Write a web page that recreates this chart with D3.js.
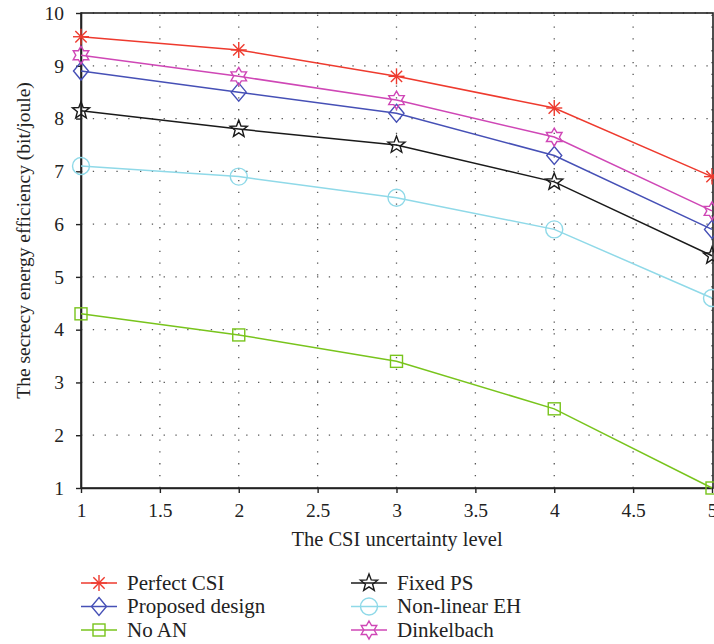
<!DOCTYPE html>
<html>
<head>
<meta charset="utf-8" />
<title>Secrecy energy efficiency</title>
<script src="https://cdn.jsdelivr.net/npm/d3@7"></script>
<style>
  body { margin: 0; background: #fff; }
  text { font-family: "Liberation Serif", "DejaVu Serif", serif; fill: #222; }
</style>
</head>
<body>
<div id="chart"></div>
<script>
// chart values
var csiLevels = [1, 2, 3, 4, 5];
var perfectCsi = [9.55, 9.3, 8.8, 8.2, 6.9];
var proposedDesign = [8.9, 8.5, 8.1, 7.3, 5.9];
var noAn = [4.3, 3.9, 3.4, 2.5, 1.0];
var fixedPs = [8.15, 7.8, 7.5, 6.8, 5.4];
var nonLinearEh = [7.1, 6.9, 6.5, 5.9, 4.6];
var dinkelbach = [9.2, 8.8, 8.35, 7.65, 6.25];
var xTicks = [1, 1.5, 2, 2.5, 3, 3.5, 4, 4.5, 5];
var yTicks = [1, 2, 3, 4, 5, 6, 7, 8, 9, 10];

var series = [
  { name: "Perfect CSI", values: perfectCsi, color: "#ee3a2e", marker: "asterisk" },
  { name: "Proposed design", values: proposedDesign, color: "#4650b6", marker: "diamond" },
  { name: "No AN", values: noAn, color: "#78c41c", marker: "square" },
  { name: "Fixed PS", values: fixedPs, color: "#1a1a1a", marker: "pentagram" },
  { name: "Non-linear EH", values: nonLinearEh, color: "#8fd9e8", marker: "circle" },
  { name: "Dinkelbach", values: dinkelbach, color: "#cf47b6", marker: "hexagram" }
];

var width = 714, height = 644;
var plotLeft = 81, plotRight = 712, plotTop = 13, plotBottom = 488;

var svg = d3.select("#chart").append("svg")
  .attr("width", width).attr("height", height);

var x = d3.scaleLinear().domain([1, 5]).range([plotLeft, plotRight]);
var y = d3.scaleLinear().domain([1, 10]).range([plotBottom, plotTop]);

// dotted grid
var grid = svg.append("g").attr("stroke", "#555").attr("stroke-width", 1.3)
  .attr("stroke-dasharray", "1.3,10.5");
grid.selectAll("line.gx").data(xTicks.slice(1)).enter().append("line")
  .attr("x1", function(d) { return x(d); }).attr("x2", function(d) { return x(d); })
  .attr("y1", plotBottom).attr("y2", plotTop);
grid.selectAll("line.gy").data(yTicks.slice(1)).enter().append("line")
  .attr("y1", function(d) { return y(d); }).attr("y2", function(d) { return y(d); })
  .attr("x1", plotLeft).attr("x2", plotRight);

// frame
svg.append("rect").attr("x", plotLeft).attr("y", plotTop)
  .attr("width", plotRight + 1 - plotLeft).attr("height", plotBottom - plotTop)
  .attr("fill", "none").attr("stroke", "#222").attr("stroke-width", 1.6);

var xAxis = svg.append("g").attr("transform", "translate(0," + plotBottom + ")")
  .call(d3.axisBottom(x).tickValues(xTicks).tickSize(5).tickSizeOuter(0).tickPadding(10)
    .tickFormat(d3.format("")));
var yAxis = svg.append("g").attr("transform", "translate(" + plotLeft + ",0)")
  .call(d3.axisLeft(y).tickValues(yTicks).tickSize(5).tickSizeOuter(0).tickPadding(12));
[xAxis, yAxis].forEach(function(a) {
  a.select(".domain").attr("stroke", "#222").attr("stroke-width", 1.6);
  a.selectAll(".tick line").attr("stroke", "#222").attr("stroke-width", 1.4);
  a.selectAll(".tick text").attr("font-size", 19.5).style("font-family", "Liberation Serif").attr("fill", "#222");
});

svg.append("text").attr("x", 397).attr("y", 546)
  .attr("text-anchor", "middle").attr("font-size", 20.5).text("The CSI uncertainty level");
svg.append("text").attr("transform", "translate(30," + ((plotTop + plotBottom) / 2 - 10) + ") rotate(-90)")
  .attr("text-anchor", "middle").attr("font-size", 19.5).text("The secrecy energy efficiency (bit/joule)");

function starPath(n, r1, r2, rot) {
  var pts = [];
  for (var i = 0; i < 2 * n; i++) {
    var a = rot + i * Math.PI / n;
    var r = i % 2 ? r2 : r1;
    pts.push([r * Math.sin(a), -r * Math.cos(a)]);
  }
  return "M" + pts.map(function(p) { return p[0].toFixed(2) + "," + p[1].toFixed(2); }).join("L") + "Z";
}

function drawMarker(g, kind, color) {
  g.attr("fill", "none").attr("stroke", color).attr("stroke-width", 1.4);
  if (kind === "asterisk") {
    var r = 8;
    [0, 45, 90, 135].forEach(function(a) {
      var rad = a * Math.PI / 180;
      g.append("line").attr("x1", -r * Math.cos(rad)).attr("y1", -r * Math.sin(rad))
        .attr("x2", r * Math.cos(rad)).attr("y2", r * Math.sin(rad));
    });
  } else if (kind === "diamond") {
    g.append("path").attr("d", "M0,-9L7.5,0L0,9L-7.5,0Z");
  } else if (kind === "square") {
    g.append("rect").attr("x", -6).attr("y", -6).attr("width", 12).attr("height", 12);
  } else if (kind === "circle") {
    g.append("circle").attr("r", 8.5);
  } else if (kind === "pentagram") {
    g.append("path").attr("d", starPath(5, 9, 3.8, 0));
  } else if (kind === "hexagram") {
    g.append("path").attr("d", starPath(6, 9, 5.2, 0));
  }
}

var line = d3.line()
  .x(function(d, i) { return x(csiLevels[i]); })
  .y(function(d) { return y(d); });

series.forEach(function(s) {
  svg.append("path").datum(s.values).attr("d", line)
    .attr("fill", "none").attr("stroke", s.color).attr("stroke-width", 1.5);
  s.values.forEach(function(v, i) {
    var g = svg.append("g").attr("transform", "translate(" + x(csiLevels[i]) + "," + y(v) + ")");
    drawMarker(g, s.marker, s.color);
  });
});

// legend
var legend = svg.append("g");
series.forEach(function(s, i) {
  var col = Math.floor(i / 3), row = i % 3;
  var lx = col === 0 ? 81 : 351, ly = 583 + row * 23.5;
  var g = legend.append("g").attr("transform", "translate(" + lx + "," + ly + ")");
  g.append("line").attr("x1", 0).attr("x2", 36).attr("y1", 0).attr("y2", 0)
    .attr("stroke", s.color).attr("stroke-width", 1.5);
  drawMarker(g.append("g").attr("transform", "translate(18,0)"), s.marker, s.color);
  g.append("text").attr("x", 46).attr("y", 6.5).attr("font-size", 21).text(s.name);
});
</script>
</body>
</html>
